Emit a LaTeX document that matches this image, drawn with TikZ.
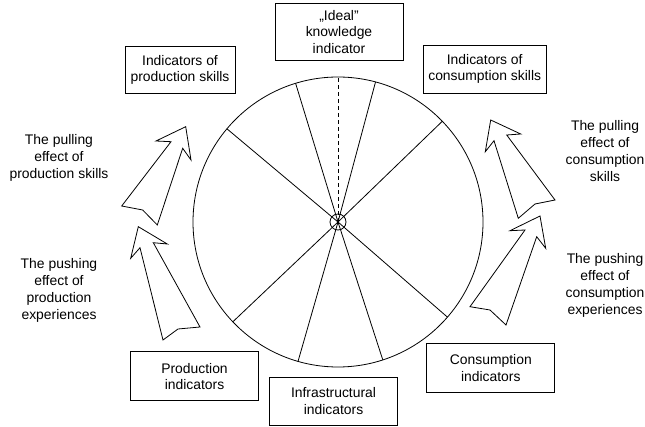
\documentclass[tikz,border=0pt]{standalone}
\usepackage{fontspec}
\setmainfont{Liberation Sans}
\usepackage{tikz}

\begin{document}
\begin{tikzpicture}[x=1pt,y=-1pt,line width=0.8pt,
  box/.style={draw,align=center,inner sep=0pt,font={\fontsize{13.9}{16.5}\selectfont}},
  lbl/.style={align=center,inner sep=0pt,font={\fontsize{13.9}{17}\selectfont}},
  blockarrow/.style={draw,fill=white,line join=miter}]
\useasboundingbox (0,0) rectangle (645,427);

\coordinate (c) at (338,222);
\draw (c) circle[radius=145];
\foreach \a in {44,75,107,140,223.5,254,288,319}
  \draw (c) -- ++(-\a:145);
\draw[dash pattern=on 4pt off 3pt] (c) -- ++(-90:145);
\node[draw,circle,minimum size=16,inner sep=0pt] (hub) at (c) {};

\node[box,minimum width=128,minimum height=57] (ideal) at (339,31.7) {„Ideal”\\knowledge\\indicator};
\node[box,minimum width=110,minimum height=47] (prodskill) at (180,70) {Indicators of\\production skills};
\node[box,minimum width=123,minimum height=48] (conskill) at (484.7,69) {Indicators of\\consumption skills};
\node[box,minimum width=128,minimum height=49] (prodind) at (194.5,376.3) {Production\\indicators};
\node[box,minimum width=128,minimum height=48] (infra) at (333.5,401) {Infrastructural\\indicators};
\node[box,minimum width=128,minimum height=49] (conind) at (490.8,368) {Consumption\\indicators};

\draw[blockarrow] (185.7,126.7) -- (191,160) -- (182.7,148.3) -- (157.3,225) -- (142.7,210)
  -- (121.7,206) -- (171,141.7) -- (156,141) -- cycle;
\draw[blockarrow] (138.3,226.7) -- (167.3,244) -- (153.3,242.7) -- (200,327) -- (178,329)
  -- (163,340) -- (140,247.7) -- (130.7,258.3) -- cycle;
\draw[blockarrow] (490.7,120) -- (520.7,134) -- (506.7,135) -- (555,200) -- (535,204)
  -- (518.3,218.3) -- (494,140.7) -- (485.3,151.7) -- cycle;
\draw[blockarrow] (540,216) -- (545.7,248.3) -- (536.7,236.7) -- (506,325) -- (490,310)
  -- (470,306.7) -- (525,230) -- (510,230.7) -- cycle;

\node[lbl] (pullprod) at (59,158) {The pulling\\effect of\\production skills};
\node[lbl] (pushprod) at (59,290) {The pushing\\effect of\\production\\experiences};
\node[lbl] (pullcons) at (605,151) {The pulling\\effect of\\consumption\\skills};
\node[lbl] (pushcons) at (605,285) {The pushing\\effect of\\consumption\\experiences};
\end{tikzpicture}
\end{document}
